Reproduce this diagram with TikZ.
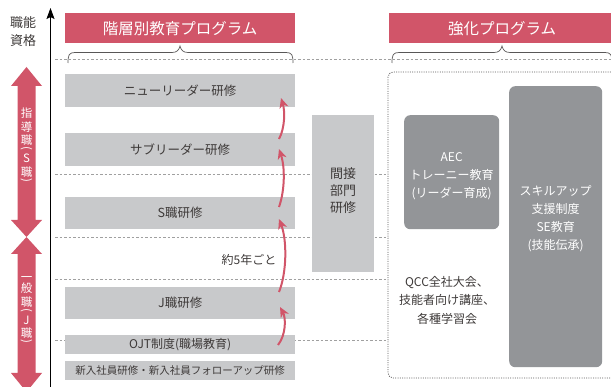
\documentclass[tikz,border=0pt]{standalone}
\usepackage{fontspec}
\usepackage{graphicx}
\setmainfont{Noto Sans CJK JP}
\usetikzlibrary{arrows.meta,calc}
\definecolor{cred}{HTML}{D15569}
\definecolor{lgray}{HTML}{C8C9CB}
\definecolor{dgray}{HTML}{939598}
\definecolor{tgray}{HTML}{3E3A39}
\definecolor{lgline}{HTML}{A0A0A0}
\definecolor{bgray}{HTML}{595757}
\newcommand{\vparen}[1]{\rotatebox[origin=c]{-90}{#1}}
\tikzset{
  hdr/.style={fill=cred, text=white, font=\fontsize{15.5}{18}\selectfont, inner sep=0pt, anchor=north west, minimum height=30pt},
  gbox/.style={fill=lgray, text=tgray, inner sep=0pt, anchor=north west, minimum width=230pt},
  dbox/.style={fill=dgray, rounded corners=6pt, inner sep=0pt, anchor=north west},
  wtext/.style={text=white, align=center, font=\fontsize{12}{18}\selectfont, inner sep=0pt},
  ttext/.style={text=tgray, align=center, inner sep=0pt},
  guide/.style={draw=lgline, line width=0.6pt, dash pattern=on 2.5pt off 2pt},
  brace/.style={draw=bgray, line width=0.7pt},
  uparrow/.style={draw=cred, line width=2pt, -{Stealth[length=10pt,width=9pt,inset=3pt]}},
  vtxt/.style={text=white, align=center, font=\fontsize{11.5}{13.5}\selectfont, inner sep=0pt}
}
\begin{document}
\begin{tikzpicture}[x=1pt,y=-1pt]
\useasboundingbox (0,0) rectangle (611,387);
\clip (0,0) rectangle (611,387);

% guide lines
\draw[guide] (55,59) -- (611,59);
\foreach \yy in {174,237,279,340} {\draw[guide] (55,\yy) -- (388,\yy);}

% vertical axis
\coordinate (axb) at (50.5,392);
\coordinate (axt) at (50.5,8);
\draw[line width=0.9pt, black, -{Stealth[length=11pt,width=8pt,inset=2pt]}] (axb) -- (axt);
\node[ttext, font=\fontsize{13}{18}\selectfont] (qual) at (23,32) {職能\\資格};

% left double arrows
\fill[cred] (26.5,67) -- (42,86) -- (35.5,86) -- (35.5,220) -- (42,220) -- (26.5,237) -- (11,220) -- (17.5,220) -- (17.5,86) -- (11,86) -- cycle;
\fill[cred] (26.5,237) -- (42,254) -- (35.5,254) -- (35.5,373) -- (42,373) -- (26.5,392) -- (11,373) -- (17.5,373) -- (17.5,254) -- (11,254) -- cycle;
\node[vtxt] (sjob) at (26.5,146) {指\\導\\職\\[-6pt]\vparen{(}\\[-3pt]S\\職\\[-6pt]\vparen{)}};
\node[vtxt] (jjob) at (26.5,311) {一\\[-2pt]般\\職\\[-6pt]\vparen{(}\\[-3pt]J\\職\\[-6pt]\vparen{)}};

% headers
\node[hdr, minimum width=230pt] (h1) at (65,13) {階層別教育プログラム};
\node[hdr, minimum width=226pt] (h2) at (389,13) {強化プログラム};

% braces
\draw[brace] (68,63) .. controls (68,55) and (69,52.5) .. (75,52.5) -- (172,52.5) .. controls (177,52.5) and (179,50) .. (180,46) .. controls (181,50) and (183,52.5) .. (188,52.5) -- (286,52.5) .. controls (292,52.5) and (293,55) .. (293,63);
\draw[brace] (392,63) .. controls (392,55) and (393,52.5) .. (399,52.5) -- (494,52.5) .. controls (499,52.5) and (501,50) .. (502,46) .. controls (503,50) and (505,52.5) .. (510,52.5) -- (605,52.5) .. controls (611,52.5) and (612,55) .. (612,63);

% dotted frame
\draw[bgray, line width=0.8pt, dash pattern=on 1pt off 1.3pt, rounded corners=5pt] (388,72) rectangle (625,378);

% gray boxes
\node[gbox, minimum height=33pt, font=\fontsize{12.5}{15}\selectfont] (nl) at (65,74) {ニューリーダー研修};
\node[gbox, minimum height=33pt, font=\fontsize{12.5}{15}\selectfont] (sl) at (65,133) {サブリーダー研修};
\node[gbox, minimum height=32pt, font=\fontsize{12.5}{15}\selectfont] (sk) at (65,197) {S職研修};
\node[gbox, minimum height=32pt, font=\fontsize{12.5}{15}\selectfont] (jk) at (65,287) {J職研修};
\node[gbox, minimum height=19pt, font=\fontsize{12}{15}\selectfont] (ojt) at (65,335) {OJT制度(職場教育)};
\node[gbox, minimum height=19pt, font=\fontsize{10.5}{13}\selectfont] (new) at (65,361) {新入社員研修・新入社員フォローアップ研修};

\node[gbox, minimum width=62pt, minimum height=157pt] (ind) at (312,115) {};
\node[ttext, font=\fontsize{13}{17}\selectfont] (indt) at (343,191) {間接\\部門\\研修};

\node[ttext, font=\fontsize{12}{18}\selectfont] (five) at (249,260) {約5年ごと};

% dark boxes
\node[dbox, minimum width=95pt, minimum height=114pt] (aec) at (404,115) {};
\node[wtext] (aect) at ($(aec.center)+(0,4.5)$) {AEC\\トレーニー教育\\(リーダー育成)};
\node[dbox, minimum width=93pt, minimum height=281pt] (sk2) at (509,86) {};
\node[wtext] (sk2t) at ($(sk2.center)+(0,-8)$) {スキルアップ\\支援制度\\SE教育\\(技能伝承)};

\node[ttext, font=\fontsize{12}{18.5}\selectfont] (qcc) at (447,300) {QCC全社大会、\\技能者向け講座、\\各種学習会};

% curved arrows
\coordinate (a1s) at (278,345); \coordinate (a1e) at (280,307);
\coordinate (a2s) at (279,292); \coordinate (a2e) at (279,219);
\coordinate (a3s) at (279,207); \coordinate (a3e) at (279,149);
\coordinate (a4s) at (279,139); \coordinate (a4e) at (281,98);
\draw[uparrow] (a1s) .. controls (286,335) and (286,318) .. (a1e);
\draw[uparrow] (a2s) .. controls (287,272) and (287,240) .. (a2e);
\draw[uparrow] (a3s) .. controls (285,190) and (285,167) .. (a3e);
\draw[uparrow] (a4s) .. controls (285,128) and (285,111) .. (a4e);
\end{tikzpicture}
\end{document}
